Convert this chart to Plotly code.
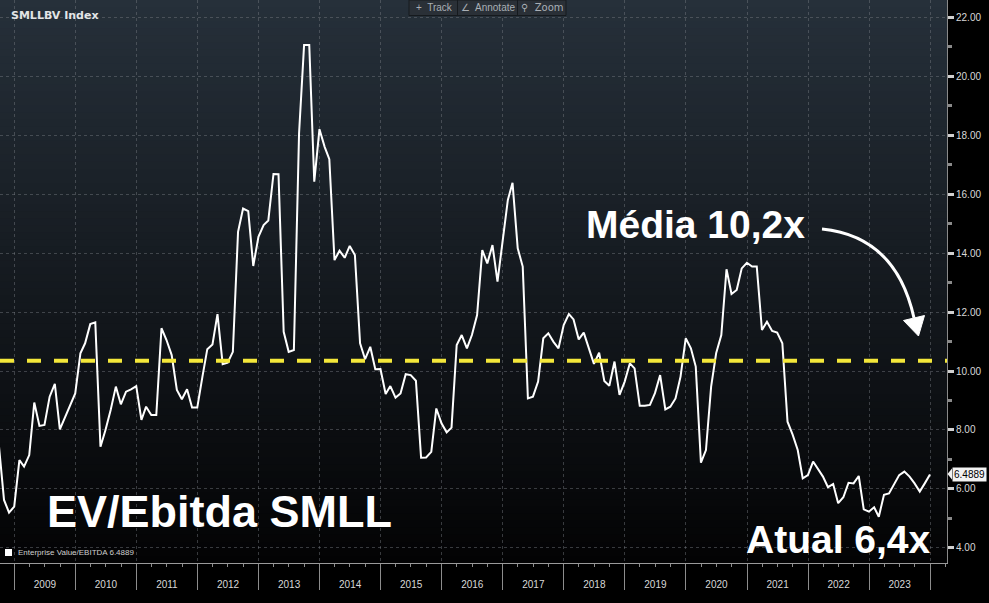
import plotly.graph_objects as go
import pandas as pd

# ---------------- data ----------------
# Monthly EV/EBITDA of the SMLL index, month-end points Sep-2008 .. Dec-2023
START_MONTH = "2008-09-30"
END_MONTH = "2023-12-31"
EV_EBITDA = [
    # 2008 (Sep-Dec)
    7.50, 5.63, 5.20, 5.40,
    # 2009
    6.98, 6.76, 7.15, 8.93, 8.14, 8.17, 9.13, 9.56, 8.02, 8.45, 8.85, 9.24,
    # 2010
    10.60, 10.94, 11.59, 11.65, 7.43, 8.00, 8.68, 9.47, 8.87, 9.30, 9.38, 9.49,
    # 2011
    8.34, 8.79, 8.51, 8.51, 11.45, 11.05, 10.54, 9.36, 9.04, 9.38, 8.76, 8.76,
    # 2012
    9.81, 10.74, 10.90, 11.93, 10.23, 10.28, 10.65, 14.72, 15.51, 15.42, 13.56, 14.55,
    # 2013
    14.95, 15.10, 16.68, 16.67, 11.33, 10.65, 10.71, 18.06, 21.05, 21.05, 16.42, 18.20,
    # 2014
    17.60, 17.18, 13.76, 14.08, 13.84, 14.24, 13.93, 10.94, 10.40, 10.82, 10.06, 10.07,
    # 2015
    9.22, 9.49, 9.10, 9.24, 9.89, 9.86, 9.67, 7.06, 7.07, 7.26, 8.73, 8.23,
    # 2016
    7.92, 8.08, 10.88, 11.22, 10.77, 11.22, 11.90, 14.10, 13.65, 14.27, 13.03, 14.44,
    # 2017
    15.80, 16.38, 14.16, 13.54, 9.07, 9.13, 9.64, 11.11, 11.28, 10.99, 10.77, 11.56,
    # 2018
    11.93, 11.75, 11.07, 11.30, 10.77, 10.24, 10.62, 9.66, 9.50, 10.32, 9.19, 9.64,
    # 2019
    10.26, 10.09, 8.82, 8.82, 8.85, 9.25, 9.86, 8.70, 8.79, 9.07, 9.81, 11.11,
    # 2020
    10.77, 10.15, 6.89, 7.32, 9.47, 10.60, 11.22, 13.45, 12.61, 12.75, 13.48, 13.67,
    # 2021
    13.54, 13.54, 11.39, 11.67, 11.36, 11.30, 10.94, 8.28, 7.85, 7.32, 6.36, 6.47,
    # 2022
    6.93, 6.67, 6.42, 6.06, 6.17, 5.52, 5.72, 6.21, 6.19, 6.44, 5.31, 5.23,
    # 2023
    5.38, 5.06, 5.80, 5.85, 6.19, 6.47, 6.59, 6.42, 6.19, 5.91, 6.19, 6.4889,
]
LAST_VALUE = 6.4889
MEAN_LEVEL = 10.35          # level of the dashed "Média" line as drawn
Y_TICKS = [4, 6, 8, 10, 12, 14, 16, 18, 20, 22]
SERIES_NAME = "Enterprise Value/EBITDA"
TITLE = "SMLLBV Index"
TXT_MAIN = "EV/Ebitda SMLL"
TXT_MEAN = "Média 10,2x"
TXT_NOW = "Atual 6,4x"

DATES = pd.date_range(START_MONTH, END_MONTH, freq="ME")

# ---------------- layout geometry (pixels) ----------------
W, H = 989, 603
PLOT_W, PLOT_H = 947, 563


def px(x):
    return x / PLOT_W


def py(y):
    return 1 - y / PLOT_H


fig = go.Figure()
fig.add_trace(go.Scatter(
    x=DATES, y=EV_EBITDA, mode="lines", name=SERIES_NAME,
    line=dict(color="#ffffff", width=2), hoverinfo="skip", showlegend=False,
))

shapes = []
# vertical gradient background of the plot area
N = 80
top = (38, 48, 58)
bot = (3, 3, 4)
for i in range(N):
    t = (i + 0.5) / N
    c = tuple(round(top[k] + (bot[k] - top[k]) * t) for k in range(3))
    shapes.append(dict(type="rect", xref="paper", yref="paper",
                       x0=0, x1=1, y0=1 - (i + 1) / N - 0.002, y1=1 - i / N,
                       fillcolor="rgb(%d,%d,%d)" % c, line=dict(width=0),
                       layer="below"))

# dashed mean line
shapes.append(dict(type="line", xref="paper", yref="y", x0=0, x1=1,
                   y0=MEAN_LEVEL, y1=MEAN_LEVEL,
                   line=dict(color="#f4e73a", width=4, dash="14px,13px"),
                   layer="above"))

# curved arrow from "Média" text down to the dashed line
P0, P1, P2 = (822, 229), (896, 236.5), (914, 318)
path = "M %f,%f Q %f,%f %f,%f" % (px(P0[0]), py(P0[1]), px(P1[0]), py(P1[1]),
                                  px(P2[0]), py(P2[1]))
shapes.append(dict(type="path", xref="paper", yref="paper", path=path,
                   line=dict(color="#ffffff", width=3)))
head = [(903.5, 320.5), (924.5, 315.5), (918.5, 336)]
hpath = "M %f,%f L %f,%f L %f,%f Z" % (px(head[0][0]), py(head[0][1]),
                                       px(head[1][0]), py(head[1][1]),
                                       px(head[2][0]), py(head[2][1]))
shapes.append(dict(type="path", xref="paper", yref="paper", path=hpath,
                   fillcolor="#ffffff", line=dict(color="#ffffff", width=1)))

# toolbar box at top
shapes.append(dict(type="rect", xref="paper", yref="paper",
                   x0=px(409), x1=px(566), y0=py(15.5), y1=py(0),
                   fillcolor="#2a3037", line=dict(color="#161a1e", width=1)))
for xd in (457.5, 517.5):
    shapes.append(dict(type="line", xref="paper", yref="paper",
                       x0=px(xd), x1=px(xd), y0=py(15), y1=py(0),
                       line=dict(color="#161a1e", width=1)))

# legend square
shapes.append(dict(type="rect", xref="paper", yref="paper",
                   x0=px(5), x1=px(12), y0=py(556), y1=py(549),
                   fillcolor="#ffffff", line=dict(width=0)))

# last value notch
shapes.append(dict(type="path", xref="paper", yref="paper",
                   path="M %f,%f L %f,%f L %f,%f Z" % (
                       px(947.5), py(474), px(952), py(468.5), px(952), py(479.5)),
                   fillcolor="#f2f2f2", line=dict(width=0)))

annotations = [
    dict(text="<b>%s</b>" % TITLE, xref="paper", yref="paper",
         x=px(9), y=py(15), xanchor="left", yanchor="middle", showarrow=False,
         font=dict(family="DejaVu Sans", size=11, color="#e2e4e6")),
    dict(text="+  Track", xref="paper", yref="paper", x=px(434), y=py(7.5),
         xanchor="center", yanchor="middle", showarrow=False,
         font=dict(family="Liberation Sans", size=10, color="#a9afb5")),
    dict(text="∠  Annotate", xref="paper", yref="paper", x=px(488), y=py(7.5),
         xanchor="center", yanchor="middle", showarrow=False,
         font=dict(family="Liberation Sans", size=10, color="#a9afb5")),
    dict(text="⚲  Zoom", xref="paper", yref="paper", x=px(542), y=py(7.5),
         xanchor="center", yanchor="middle", showarrow=False,
         font=dict(family="DejaVu Sans", size=10, color="#a9afb5")),
    dict(text="<b>%s</b>" % TXT_MAIN, xref="paper", yref="paper",
         x=px(45), y=py(511), xanchor="left", yanchor="middle", showarrow=False,
         font=dict(family="Liberation Sans", size=45, color="#ffffff")),
    dict(text="<b>%s</b>" % TXT_MEAN, xref="paper", yref="paper",
         x=px(695), y=py(224), xanchor="center", yanchor="middle", showarrow=False,
         font=dict(family="Liberation Sans", size=39, color="#ffffff")),
    dict(text="<b>%s</b>" % TXT_NOW, xref="paper", yref="paper",
         x=px(838.5), y=py(539), xanchor="center", yanchor="middle", showarrow=False,
         font=dict(family="Liberation Sans", size=39, color="#ffffff")),
    dict(text="%s %.4f" % (SERIES_NAME, LAST_VALUE), xref="paper", yref="paper",
         x=px(16), y=py(552.5), xanchor="left", yanchor="middle", showarrow=False,
         font=dict(family="Liberation Sans", size=8, color="#cfcfcf")),
    dict(text="%.4f" % LAST_VALUE, xref="paper", yref="y",
         x=px(952), y=LAST_VALUE, xanchor="left", yanchor="middle", showarrow=False,
         bgcolor="#f2f2f2", borderpad=1,
         font=dict(family="Liberation Sans", size=10, color="#000000")),
]

grid_col = "rgba(120,124,130,0.45)"
fig.update_layout(
    width=W, height=H,
    margin=dict(l=0, r=W - PLOT_W, t=0, b=H - PLOT_H),
    paper_bgcolor="#000000", plot_bgcolor="rgba(0,0,0,0)",
    showlegend=False,
    shapes=shapes, annotations=annotations,
    xaxis=dict(
        type="date", range=["2008-10-07", "2024-04-11"],
        tick0="2009-01-01", dtick="M12", tickformat="%Y", ticklabelmode="period",
        ticks="outside", ticklen=26, tickwidth=1, tickcolor="#8c8c8c",
        ticklabelstandoff=-14,
        showline=True, linecolor="#9a9a9a", linewidth=1,
        showgrid=True, gridcolor=grid_col, griddash="dot", gridwidth=1,
        tickfont=dict(family="Liberation Sans", size=10, color="#d8d8d8"),
        minor=dict(dtick="M3", tick0="2009-01-01", ticks="outside", ticklen=3,
                   tickcolor="#8c8c8c", showgrid=False),
        zeroline=False, fixedrange=True,
    ),
    yaxis=dict(
        side="right", range=[3.49, 22.58],
        tickvals=Y_TICKS, tickformat=".2f",
        ticks="outside", ticklen=6, tickwidth=3, tickcolor="#d0d0d0",
        showline=True, linecolor="#8a8a8a", linewidth=1,
        showgrid=True, gridcolor=grid_col, griddash="dot", gridwidth=1,
        tickfont=dict(family="Liberation Sans", size=10, color="#d8d8d8"),
        minor=dict(dtick=1, tick0=0, ticks="outside", ticklen=4,
                   tickcolor="#8a8a8a", showgrid=False),
        zeroline=False, fixedrange=True,
    ),
)

fig.write_html("out.html", config={"displayModeBar": False},
               post_script="document.body.style.margin='0px';"
                           "document.body.style.overflow='hidden';")
